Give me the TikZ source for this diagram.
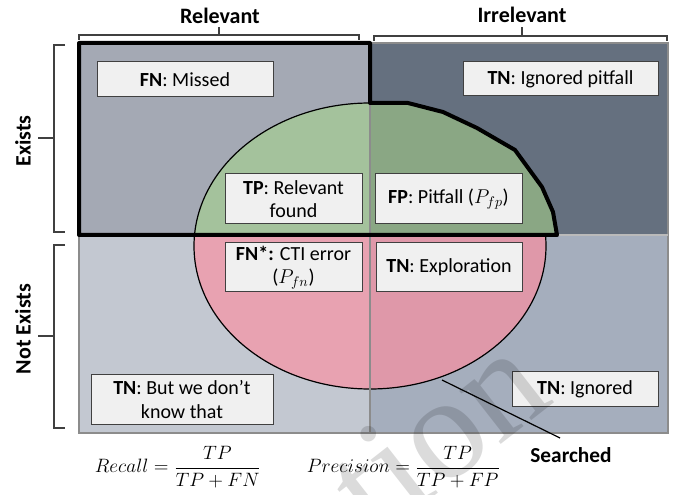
\RequirePackage{fix-cm}
\documentclass[tikz,border=0pt]{standalone}
\usepackage{fontspec}
\setmainfont{Carlito}
\newfontfamily\wmfont{Liberation Serif}
\definecolor{qTL}{HTML}{A4A9B4}
\definecolor{qTR}{HTML}{65707F}
\definecolor{qBL}{HTML}{C3C8D1}
\definecolor{qBR}{HTML}{A5AEBD}
\definecolor{gL}{HTML}{A4C29C}
\definecolor{gR}{HTML}{8AA784}
\definecolor{pL}{HTML}{E8A2B1}
\definecolor{pR}{HTML}{DF98A9}
\definecolor{boxfill}{HTML}{F0F0F0}
\definecolor{boxline}{HTML}{404040}
\definecolor{divline}{HTML}{8C8C8C}
\definecolor{brk}{HTML}{404040}
\newcommand\lblfont{\fontsize{15}{17.5}\selectfont}
\newcommand\hdfont{\fontsize{16.5}{19}\selectfont\bfseries}
\newcommand\mathfnt{\fontsize{14.5}{17}\selectfont}
\tikzset{
  lbox/.style={draw=boxline, fill=boxfill, line width=0.75pt, inner sep=0pt, align=center, font=\lblfont},
  head/.style={font=\hdfont, inner sep=0pt},
  brack/.style={draw=brk, line width=0.9pt},
  thick outline/.style={draw=black, line width=3pt, line join=round},
}
\begin{document}
\begin{tikzpicture}[x=0.75pt, y=-0.75pt]
\useasboundingbox (0,0) rectangle (675,495);
\fill[white] (0,0) rectangle (675,495);
% quadrants
\fill[qTL] (79,43) rectangle (370,235);
\fill[qTR] (370,43) rectangle (668,235);
\fill[qBL] (79,235) rectangle (370,433);
\fill[qBR] (370,235) rectangle (668,433);
% ellipse fills
\begin{scope}
  \clip (0,0) rectangle (370,235);
  \fill[gL] (370,246) ellipse [x radius=176, y radius=143];
\end{scope}
\begin{scope}
  \clip (370,0) rectangle (675,235);
  \fill[gR] (370,246) ellipse [x radius=176, y radius=143];
\end{scope}
\fill[gR] (370,235) -- (370,103) -- (408,103) -- (443,112) -- (477,128) -- (515,150) -- (542,187) -- (553,212) -- (557,235) -- cycle;
\begin{scope}
  \clip (0,235) rectangle (370,495);
  \fill[pL] (370,246) ellipse [x radius=176, y radius=143];
\end{scope}
\begin{scope}
  \clip (370,235) rectangle (675,495);
  \fill[pR] (370,246) ellipse [x radius=176, y radius=143];
\end{scope}
% ellipse outline (except top right)
\begin{scope}
  \clip (0,0) rectangle (370,495);
  \draw[black, line width=0.9pt] (370,246) ellipse [x radius=176, y radius=143];
\end{scope}
\begin{scope}
  \clip (370,235) rectangle (675,495);
  \draw[black, line width=0.9pt] (370,246) ellipse [x radius=176, y radius=143];
\end{scope}
% grid lines
\draw[divline, line width=0.8pt] (370,43) -- (370,433);
\draw[divline, line width=0.8pt] (79,43) rectangle (668,433);
\draw[divline!60, line width=0.8pt] (557,235) -- (668,235);
% thick outline
\draw[thick outline] (79,43) -- (370,43) -- (370,103) -- (408,103) -- (443,112) -- (477,128) -- (515,150) -- (542,187) -- (553,212) -- (557,235) -- (79,235) -- cycle;
% brackets
\draw[brack] (79,40) -- (79,35) -- (359,35) -- (359,40);
\draw[brack] (219,35) -- (219,27);
\draw[brack] (374,41) -- (374,36) -- (667,36) -- (667,41);
\draw[brack] (522,36) -- (522,27);
\draw[brack] (65,45) -- (54,45) -- (54,232) -- (65,232);
\draw[brack] (54,138) -- (38,138);
\draw[brack] (65,245) -- (54,245) -- (54,428) -- (65,428);
\draw[brack] (54,336) -- (38,336);
% headings
\node[head] (relevant) at (220,16) {Relevant};
\node[head] (irrelevant) at (522,15) {Irrelevant};
\node[head, rotate=90] (exists) at (23,141) {Exists};
\node[head, rotate=90] (notexists) at (23,329) {Not Exists};
% boxes
\node[lbox, minimum width=132pt, minimum height=26.25pt] (fn) at (185,79.5) {\textbf{FN}: Missed};
\node[lbox, minimum width=146.25pt, minimum height=25.5pt] (tnpit) at (560.5,79) {\textbf{TN}: Ignored pitfall};
\node[lbox, minimum width=102.75pt, minimum height=37.5pt] (tp) at (293.5,199) {\textbf{TP}: Relevant\\found};
\node[lbox, minimum width=110.25pt, minimum height=37.5pt] (fp) at (448.5,199) {\textbf{FP}: Pitfall ($P_{fp}$)};
\node[lbox, minimum width=102.75pt, minimum height=36.75pt] (fnstar) at (293.5,267.5) {\textbf{FN*:} CTI error\\($P_{fn}$)};
\node[lbox, minimum width=109.5pt, minimum height=36.75pt] (tnexp) at (449,267.5) {\textbf{TN}: Exploration};
\node[lbox, minimum width=136.5pt, minimum height=36.75pt] (tnbut) at (182,399.5) {\textbf{TN}: But we don’t\\know that};
\node[lbox, minimum width=109.5pt, minimum height=25.5pt] (tnign) at (585,389) {\textbf{TN}: Ignored};
% searched
\coordinate (sStart) at (442,380);
\coordinate (sEnd) at (560,438);
\node[head, font=\fontsize{16}{19}\selectfont\bfseries] (searched) at (571,455) {Searched};
\draw[black, line width=0.9pt] (sStart) -- (sEnd);
% formulas
\node[inner sep=0pt, font=\mathfnt] (recall) at (178,467) {$\displaystyle Recall=\frac{TP}{TP+FN}$};
\node[inner sep=0pt, font=\mathfnt] (precision) at (403.5,467) {$\displaystyle Precision=\frac{TP}{TP+FP}$};
% watermark
\node[anchor=base west, rotate=38, inner sep=0pt, text=black, opacity=0.14, font=\wmfont\fontsize{110}{110}\selectfont] (wm) at (376,542) {tion};
\end{tikzpicture}
\end{document}
